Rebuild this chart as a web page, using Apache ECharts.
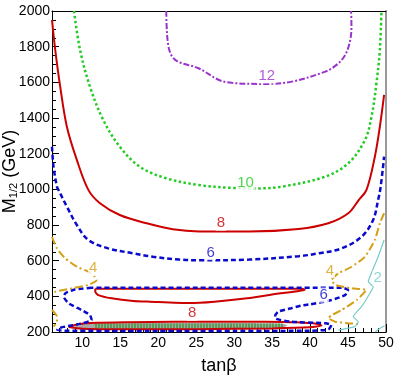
<!DOCTYPE html>
<html>
<head>
<meta charset="utf-8">
<script src="https://cdn.jsdelivr.net/npm/echarts@6.0.0/dist/echarts.min.js"></script>
<style>
html, body { margin: 0; padding: 0; background: #fff; }
#chart { width: 399px; height: 383px; }
</style>
</head>
<body>
<div id="chart"></div>
<script>
// axis ticks
const xTicks = [10, 15, 20, 25, 30, 35, 40, 45, 50];
const xMinorTicks = [];
for (let v = 6; v <= 50; v++) xMinorTicks.push(v);

// contour lines, [tanb, M1/2]
const c12 = [[21.05, 2000], [21.15, 1875], [21.4, 1790], [21.9, 1740], [22.8, 1712], [25.3, 1679], [28.0, 1613],
  [29.7, 1597], [34.1, 1591], [37.6, 1604], [42.0, 1660], [43.4, 1695], [44.5, 1745], [45.2, 1819], [45.45, 1912],
  [45.4, 2000]];
const c10 = [[8.9, 2000], [9.7, 1781], [11.0, 1576], [12.75, 1389], [14.93, 1239], [17.55, 1127], [21.05, 1062],
  [25.4, 1024], [29.7, 1008], [33, 1005], [36.27, 1015], [41.99, 1071], [45.03, 1146], [47.23, 1277], [48.09, 1407],
  [48.74, 1595], [49.19, 1781], [49.4, 2000]];
const c8a = [[6.0, 1950], [6.43, 1781], [7.08, 1576], [7.96, 1351], [9.27, 1165], [10.79, 997], [12.32, 922],
  [14.93, 856], [18.43, 810], [21.91, 776], [25.4, 764], [31.95, 764], [38.5, 778], [42.4, 810], [45.03, 866],
  [46.4, 940], [47.43, 997], [48.53, 1183], [49.19, 1351], [49.75, 1529]];
const c8b = [[11.7, 442], [11.7, 426], [12.1, 407], [13.85, 389], [16.7, 374], [18.9, 370], [24.1, 362], [27.4, 370],
  [31.7, 389], [36.1, 417], [39.3, 436], [39.0, 442], [25, 442], [11.7, 442]];
const c8c = [[8.2, 228], [9.5, 245], [12, 252], [16, 255], [22, 258], [28, 258], [34, 257], [38, 254], [41, 245],
  [41.5, 236], [40, 226], [35, 220], [25, 216], [15, 215], [10, 218], [8.2, 228]];
const c6a = [[6.0, 1239], [6.2, 1127], [6.65, 1015], [6.86, 996], [7.96, 903], [9.27, 800], [10.79, 716], [13.4, 669],
  [16.7, 641], [19.29, 622], [22.79, 606], [25.4, 602], [31.95, 606], [38.5, 625], [41.1, 641], [44.16, 669],
  [46.78, 734], [48.3, 828], [48.96, 940], [49.3, 1015], [49.75, 1183]];
const c6b = [[11.2, 448], [9.0, 438], [7.8, 419], [7.55, 398], [8.2, 361], [9.9, 323], [11.0, 295], [11.2, 267],
  [9.4, 243], [7.7, 230], [6.9, 221], [6.7, 212], [8, 207], [20, 206], [30, 206], [40, 207], [42.4, 214],
  [42.8, 239], [42.0, 249], [37.4, 258], [35.4, 277], [35.4, 290], [35.8, 314], [37.5, 333], [38.8, 348], [40, 355],
  [42.8, 379], [44.6, 407], [45.0, 436], [44.2, 448], [30, 448], [11.2, 448]];
const c4a = [[6.0, 734], [6.65, 669], [7.74, 613], [9.27, 566], [10.79, 538], [11.66, 510], [11.88, 492],
  [10.79, 464], [8.61, 445], [6.43, 426], [6.0, 417]];
const c4b = [[6.0, 323], [6.65, 286], [6.65, 258], [6.2, 230]];
const c4c = [[49.75, 866], [49.19, 810], [48.53, 716], [47.23, 622], [45.47, 566], [43.73, 529], [42.85, 492],
  [43.3, 464], [45.47, 445], [47.4, 436], [46.14, 379], [44.16, 323], [42.85, 295], [42.4, 277], [43.3, 258],
  [45.03, 249], [46.5, 245]];
const c2a = [[49.75, 716], [48.96, 622], [47.88, 510], [47.66, 482], [48.32, 454], [47.88, 417], [46.78, 342],
  [45.69, 286], [46.34, 258], [45.9, 230], [43.73, 211]];
const c2b = [[48.6, 200], [49.0, 215], [49.8, 235]];

// excluded strip at low M1/2
const stripGray = [[9, 232], [11, 246], [20, 250], [30, 250], [36, 247], [37, 238], [36, 218], [20, 216], [10, 218]];
const stripHatch = [[11.7, 234], [36.6, 234]];

// contour labels
const labelX = [34.3, 31.5, 28.25, 26.9, 11.44, 42.6, 41.8, 24.45, 48.9];
const labelY = [1636, 1037, 810, 645, 557, 544, 407, 305, 501];
const labelText = ['12', '10', '8', '6', '4', '4', '6', '8', '2'];

const colors = { '12': '#9933cc', '10': '#22cc22', '8': '#cc0000', '6': '#0a0acc', '4': '#d4a017', '2': '#77cccc' };
const FONT = 'Liberation Sans, Arial, sans-serif';

const chart = echarts.init(document.getElementById('chart'));

function contour(data, color, width, type, smooth) {
  return {
    type: 'line',
    data,
    showSymbol: false,
    symbol: 'none',
    smooth: smooth === undefined ? 0.35 : smooth,
    lineStyle: { color, width, type },
    silent: true,
    z: 3,
  };
}

const series = [
  {
    type: 'custom',
    silent: true,
    z: 1,
    renderItem(params, api) {
      return {
        type: 'polygon',
        shape: { points: stripGray.map((p) => api.coord(p)), smooth: 0.2 },
        style: { fill: '#a9a9a9' },
      };
    },
    data: [stripGray[0]],
  },
  {
    type: 'line',
    data: stripHatch,
    showSymbol: false,
    symbol: 'none',
    lineStyle: { color: '#3a9a3a', width: 5, type: [1.5, 1.5] },
    silent: true,
    z: 2,
  },
  contour(c12, colors['12'], 2, [6, 2, 2, 2]),
  contour(c10, colors['10'], 2.5, [2.5, 2.5]),
  contour(c8a, colors['8'], 2),
  contour(c8b, colors['8'], 2, 'solid', 0.2),
  contour(c8c, colors['8'], 2, 'solid', 0.2),
  contour(c6a, colors['6'], 2.5, [5, 3]),
  contour(c6b, colors['6'], 2.5, [5, 3], 0.2),
  contour(c4a, colors['4'], 2, [8, 3, 2, 3], 0.2),
  contour(c4b, colors['4'], 2, [8, 3, 2, 3], 0.2),
  contour(c4c, colors['4'], 2, [8, 3, 2, 3], 0.15),
  contour(c2a, colors['2'], 1.2, 'solid', 0.15),
  contour(c2b, colors['2'], 1.2, 'solid', 0.3),
  {
    type: 'scatter',
    symbolSize: 1,
    itemStyle: { color: 'rgba(0,0,0,0)' },
    silent: true,
    z: 10,
    data: labelText.map((t, i) => ({
      value: [labelX[i], labelY[i]],
      name: t,
      label: { color: colors[t] },
    })),
    label: {
      show: true,
      position: 'inside',
      formatter: '{b}',
      fontSize: 15,
      fontFamily: FONT,
      backgroundColor: '#fff',
      padding: [0, 1],
    },
  },
];

const option = {
  animation: false,
  grid: { left: 52, right: 13, top: 11, bottom: 51, containLabel: false, outerBoundsMode: 'none' },
  xAxis: [
    {
      type: 'value',
      min: 6,
      max: 50,
      position: 'bottom',
      name: 'tanβ',
      nameLocation: 'middle',
      nameGap: 25,
      nameMoveOverlap: false,
      nameTextStyle: { fontSize: 18, color: '#000', fontFamily: FONT },
      axisLine: { lineStyle: { color: '#000', width: 1 } },
      axisTick: { inside: true, length: 8, customValues: xTicks, lineStyle: { color: '#000' } },
      axisLabel: { customValues: xTicks, color: '#000', fontSize: 14, fontFamily: FONT, margin: 4 },
      splitLine: { show: false },
    },
    {
      type: 'value',
      min: 6,
      max: 50,
      position: 'bottom',
      axisLine: { show: false },
      axisTick: { inside: true, length: 4, customValues: xMinorTicks, lineStyle: { color: '#000' } },
      axisLabel: { show: false },
      splitLine: { show: false },
    },
    {
      type: 'value',
      min: 6,
      max: 50,
      position: 'top',
      axisLine: { lineStyle: { color: '#000', width: 1 } },
      axisTick: { show: false },
      axisLabel: { show: false },
      splitLine: { show: false },
    },
  ],
  yAxis: [
    {
      type: 'value',
      min: 200,
      max: 2000,
      interval: 200,
      position: 'left',
      name: '{m|M}{s|1/2}{m| (GeV)}',
      nameLocation: 'middle',
      nameRotate: 90,
      nameGap: 33,
      nameMoveOverlap: false,
      nameTextStyle: {
        color: '#000',
        rich: {
          m: { fontSize: 18, fontFamily: FONT, color: '#000', lineHeight: 18, verticalAlign: 'middle' },
          s: { fontSize: 11, fontFamily: FONT, color: '#000', lineHeight: 18, verticalAlign: 'bottom' },
        },
      },
      axisLine: { show: true, lineStyle: { color: '#000', width: 1 } },
      axisTick: { inside: true, length: 7, lineStyle: { color: '#000' } },
      minorTick: { show: true, splitNumber: 4, length: 4, lineStyle: { color: '#000' } },
      axisLabel: {
        color: '#000',
        fontSize: 14,
        fontFamily: FONT,
        margin: 2,
        formatter: (v) => String(v),
      },
      splitLine: { show: false },
    },
    {
      type: 'value',
      min: 200,
      max: 2000,
      position: 'right',
      axisLine: { show: true, lineStyle: { color: '#999', width: 2 } },
      axisTick: { show: false },
      axisLabel: { show: false },
      splitLine: { show: false },
    },
  ],
  series,
};

chart.setOption(option);
</script>
</body>
</html>
